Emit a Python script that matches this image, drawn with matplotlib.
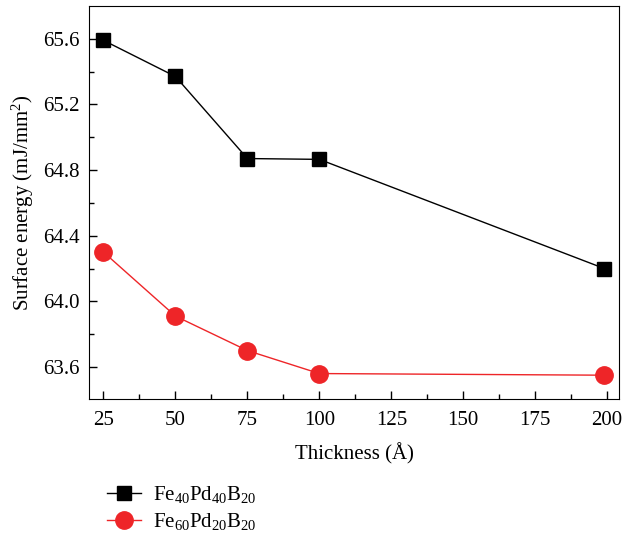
import matplotlib.pyplot as plt

plt.rcParams['font.family'] = ['Liberation Serif', 'DejaVu Serif']
plt.rcParams['mathtext.fontset'] = 'custom'
plt.rcParams['mathtext.rm'] = 'Liberation Serif'
plt.rcParams['mathtext.it'] = 'Liberation Serif:italic'

thickness = [25, 50, 75, 100, 199]
fe40 = [65.59, 65.37, 64.87, 64.865, 64.20]
fe60 = [64.30, 63.91, 63.70, 63.56, 63.55]
x_ticks = [25, 50, 75, 100, 125, 150, 175, 200]
y_ticks = [63.6, 64.0, 64.4, 64.8, 65.2, 65.6]

fig = plt.figure(figsize=(6.23, 5.37), dpi=100)
ax = fig.add_axes([0.143, 0.257, 0.851, 0.732])

ax.plot(thickness, fe40, color='black', marker='s', markersize=10.5, lw=1,
        label=r'Fe$_{40}$Pd$_{40}$B$_{20}$')
ax.plot(thickness, fe60, color='#ee2528', marker='o', markersize=12.5, lw=1,
        label=r'Fe$_{60}$Pd$_{20}$B$_{20}$')

ax.set_xlim(20, 204.2)
ax.set_ylim(63.405, 65.8)
ax.set_xticks(x_ticks)
ax.set_yticks(y_ticks)
ax.set_yticklabels([f'{v:.1f}' for v in y_ticks])
ax.set_xticks([37.5, 62.5, 87.5, 112.5, 137.5, 162.5, 187.5], minor=True)
ax.set_yticks([63.8, 64.2, 64.6, 65.0, 65.4], minor=True)
ax.tick_params(which='both', direction='in', labelsize=15, top=False, right=False)
ax.tick_params(which='major', length=6, width=1)
ax.tick_params(which='minor', length=3.5, width=1)
ax.tick_params(axis='x', pad=9)
ax.tick_params(axis='y', pad=7)

ax.set_xlabel('Thickness (Å)', fontsize=15, labelpad=9)
ax.set_ylabel('Surface energy (mJ/mm$^2$)', fontsize=15, labelpad=5)

fig.legend(loc='upper left', bbox_to_anchor=(0.159, 0.114), frameon=False,
           fontsize=15, handlelength=1.6, labelspacing=0.3, handletextpad=0.6,
           borderaxespad=0)

fig.savefig('out.png', dpi=100)
